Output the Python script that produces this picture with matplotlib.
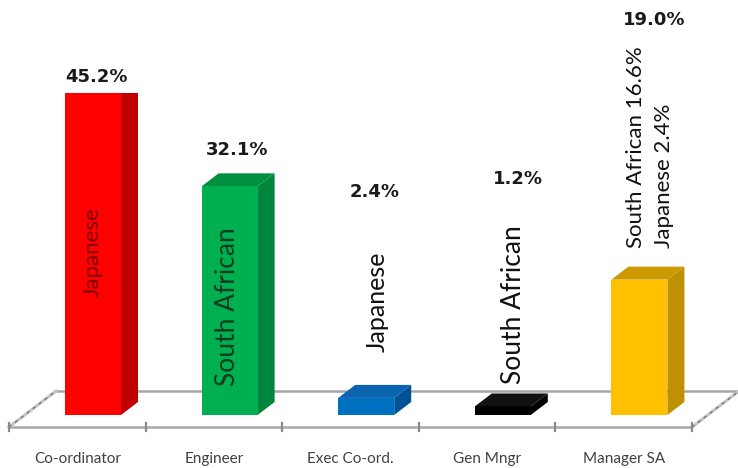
import matplotlib
matplotlib.use("Agg")
import matplotlib.pyplot as plt
from matplotlib.patches import Polygon

# ---- data -------------------------------------------------------------
categories = ["Co-ordinator", "Engineer", "Exec Co-ord.", "Gen Mngr", "Manager SA"]
values = [45.2, 32.1, 2.4, 1.2, 19.0]
value_labels = ["45.2%", "32.1%", "2.4%", "1.2%", "19.0%"]
inner_labels = ["Japanese", "South African", "Japanese", "South African",
                "South African 16.6%\nJapanese 2.4%"]

# ---- styling ----------------------------------------------------------
front_colors = ["#ff0000", "#00b050", "#0070c0", "#000000", "#ffc000"]
side_colors = ["#c00000", "#00863c", "#005494", "#000000", "#bf9000"]
top_colors = ["#e00000", "#00903f", "#0a64b0", "#111111", "#cc9a00"]
inner_colors = ["#7a0000", "#0b3d1e", "#111111", "#111111", "#111111"]
inner_sizes = [16, 19, 18, 19, 16]
# label placement, in pixels relative to each category's front-line centre
value_offsets = [(19, 16), (23, 36), (24, 206), (31, 227), (30, 260)]
inner_offsets = [(15.7, 163), (14, 108), (26.5, 113), (26, 110), (26.3, 167)]

W, H = 738, 468
ZERO_ROW = 415      # pixel row of value 0 on the bar front plane
TOP_ROW = 93        # pixel row of the chart ceiling
X0 = 77.3           # pixel column of the first category on the front edge
STEP = 136.6        # pixels between categories
BAR_SHIFT = 15.7    # bar front plane is set back into the floor
BAR_HALF = 28       # half width of a bar front face (px)
DEPTH = (17, 13)    # bar depth offset (px right, px up)
FLOOR_FRONT = -12   # floor front edge relative to bar baseline (px up)
FLOOR_DEPTH = (47, 36)

ymax = max(values)
ppu = (ZERO_ROW - TOP_ROW) / ymax

fig = plt.figure(figsize=(W / 100, H / 100), dpi=100)
fig.patch.set_facecolor("white")
ax = fig.add_axes([0, 0, 1, (H - TOP_ROW) / H])
ax.set_xlim(-X0 / STEP, (W - X0) / STEP)
ax.set_ylim(-(H - ZERO_ROW) / ppu, ymax)
ax.axis("off")


def px(dx, dy):
    """Pixel offset -> data offset."""
    return dx / STEP, dy / ppu


# ---- floor ------------------------------------------------------------
n = len(categories)
_, fy = px(0, FLOOR_FRONT)
fdx, fdy = px(*FLOOR_DEPTH)
gray = "#a6a6a6"
xa, xb = -0.5, n - 0.5
ax.plot([xa + fdx, xb + fdx], [fy + fdy, fy + fdy], color=gray, lw=1.8, zorder=1,
        solid_capstyle="butt")
ax.plot([xa, xb], [fy, fy], color=gray, lw=1.8, zorder=1, solid_capstyle="butt")
for x in (xa, xb):
    ax.plot([x, x + fdx], [fy, fy + fdy], color="#c4c4c4", lw=2.2, zorder=1)
    ax.plot([x, x + fdx], [fy, fy + fdy], color="#6f6f6f", lw=0.9, zorder=1,
            linestyle=(0, (2.5, 3.5)))
_, tk = px(0, 4)
for k in range(n + 1):
    ax.plot([xa + k, xa + k], [fy - tk, fy + tk], color="#8a8a8a", lw=1.6, zorder=1)

# ---- bars -------------------------------------------------------------
ddx, ddy = px(*DEPTH)
sh, hw = BAR_SHIFT / STEP, BAR_HALF / STEP
for i, v in enumerate(values):
    xl, xr = i + sh - hw, i + sh + hw
    side = [(xr, 0), (xr + ddx, ddy), (xr + ddx, v + ddy), (xr, v)]
    top = [(xl, v), (xr, v), (xr + ddx, v + ddy), (xl + ddx, v + ddy)]
    front = [(xl, 0), (xr, 0), (xr, v), (xl, v)]
    ax.add_patch(Polygon(side, closed=True, facecolor=side_colors[i],
                         edgecolor="none", zorder=3))
    ax.add_patch(Polygon(top, closed=True, facecolor=top_colors[i],
                         edgecolor="none", zorder=3))
    ax.add_patch(Polygon(front, closed=True, facecolor=front_colors[i],
                         edgecolor="none", zorder=4))

# ---- text -------------------------------------------------------------
for i, v in enumerate(values):
    ax.annotate(value_labels[i], xy=(i, v), xytext=value_offsets[i],
                textcoords="offset pixels", ha="center", va="center",
                fontsize=13, fontweight="bold", family="DejaVu Sans",
                color="#1a1a1a", zorder=6, annotation_clip=False)
    ox, oy = inner_offsets[i]
    multi = "\n" in inner_labels[i]
    ax.annotate(inner_labels[i], xy=(i, 0), xytext=(ox, oy),
                textcoords="offset pixels", rotation=90, ha="center",
                va="bottom" if multi else "center", multialignment="left",
                linespacing=1.45, fontsize=inner_sizes[i], family="Lato",
                color=inner_colors[i], zorder=6, annotation_clip=False)
    ax.annotate(categories[i], xy=(i, 0), xytext=(0, ZERO_ROW - 459),
                textcoords="offset pixels", ha="center", va="center",
                fontsize=11, family="Lato", color="#404040", zorder=6,
                annotation_clip=False)

fig.savefig("out.png", dpi=100, facecolor="white")
